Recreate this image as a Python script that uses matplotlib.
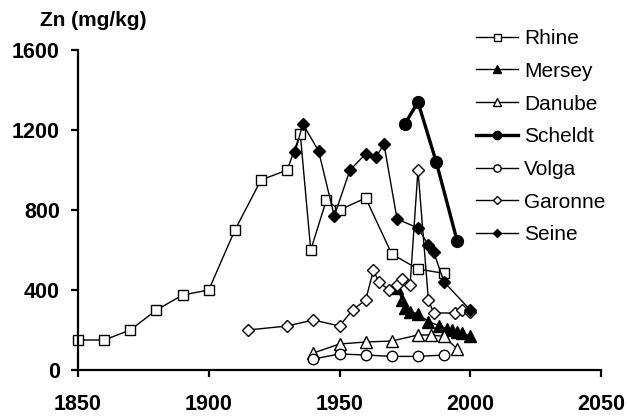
import matplotlib
matplotlib.use("Agg")
from matplotlib import pyplot as plt

plt.rcParams['font.family'] = ['Liberation Sans', 'DejaVu Sans']

# Zn concentrations (mg/kg)
rhine_years = [1850, 1860, 1870, 1880, 1890, 1900, 1910, 1920, 1930, 1935, 1939, 1945, 1950, 1960, 1970, 1980, 1990]
rhine_zn = [150, 150, 200, 300, 375, 400, 700, 950, 1000, 1180, 600, 850, 800, 860, 580, 505, 483]

mersey_years = [1972, 1974, 1975, 1977, 1980, 1984, 1988, 1991, 1993, 1995, 1997, 2000]
mersey_zn = [410, 350, 310, 290, 282, 242, 222, 205, 200, 190, 183, 170]

danube_years = [1940, 1950, 1960, 1970, 1980, 1985, 1990, 1995]
danube_zn = [85, 130, 140, 145, 175, 175, 168, 105]

scheldt_years = [1975, 1980, 1987, 1995]
scheldt_zn = [1230, 1340, 1040, 645]

volga_years = [1940, 1950, 1960, 1970, 1980, 1990]
volga_zn = [55, 80, 75, 68, 68, 75]

garonne_years = [1915, 1930, 1940, 1950, 1955, 1960, 1963, 1965, 1969, 1972, 1974, 1977, 1980, 1984, 1986, 1994, 1997, 2000]
garonne_zn = [200, 220, 250, 220, 300, 350, 500, 440, 400, 425, 455, 425, 1000, 350, 285, 285, 300, 290]

seine_years = [1933, 1936, 1942, 1948, 1954, 1960, 1964, 1967, 1972, 1980, 1984, 1986, 1990, 2000]
seine_zn = [1090, 1230, 1095, 770, 1000, 1080, 1065, 1130, 755, 710, 625, 590, 440, 300]

fig = plt.figure(figsize=(6.28, 4.18), dpi=100)
ax = fig.add_axes([78/628, 48/418, 523/628, 320/418])

lw = 1.0
ax.plot(rhine_years, rhine_zn, '-s', color='k', lw=lw, ms=7.2, mfc='white', mec='k', mew=1.0, label='Rhine', clip_on=False)
ax.plot(mersey_years, mersey_zn, '-^', color='k', lw=lw, ms=8, mfc='k', mec='k', label='Mersey')
ax.plot(danube_years, danube_zn, '-^', color='k', lw=lw, ms=8, mfc='white', mec='k', mew=1.0, label='Danube')
ax.plot(scheldt_years, scheldt_zn, '-o', color='k', lw=2.4, ms=8.5, mfc='k', mec='k', label='Scheldt')
ax.plot(volga_years, volga_zn, '-o', color='k', lw=lw, ms=7.5, mfc='white', mec='k', mew=1.0, label='Volga')
ax.plot(garonne_years, garonne_zn, '-D', color='k', lw=lw, ms=6, mfc='white', mec='k', mew=1.0, label='Garonne')
ax.plot(seine_years, seine_zn, '-D', color='k', lw=lw, ms=6, mfc='k', mec='k', label='Seine')

ax.set_xlim(1850, 2050)
ax.set_ylim(0, 1600)
ax.set_xticks([1850, 1900, 1950, 2000, 2050])
ax.set_yticks([0, 400, 800, 1200, 1600])
ax.spines['top'].set_visible(False)
ax.spines['right'].set_visible(False)
ax.spines['left'].set_linewidth(1.6)
ax.spines['bottom'].set_linewidth(1.6)
ax.tick_params(axis='both', direction='out', length=5, width=1.6, labelsize=15.5)
ax.tick_params(axis='x', pad=12)
ax.tick_params(axis='y', pad=8)
for lab in ax.get_xticklabels() + ax.get_yticklabels():
    lab.set_fontweight('bold')

fig.text(40/628, 1 - 20/418, 'Zn (mg/kg)', fontsize=15, fontweight='bold', va='center', ha='left')

ax.legend(loc='upper left', bbox_to_anchor=(476/628, 1 - 29/418), bbox_transform=fig.transFigure,
          frameon=False, fontsize=15, handlelength=2.0, handletextpad=0.3, labelspacing=0.66,
          borderpad=0, borderaxespad=0, markerscale=0.7)

fig.savefig('out.png', dpi=100)
